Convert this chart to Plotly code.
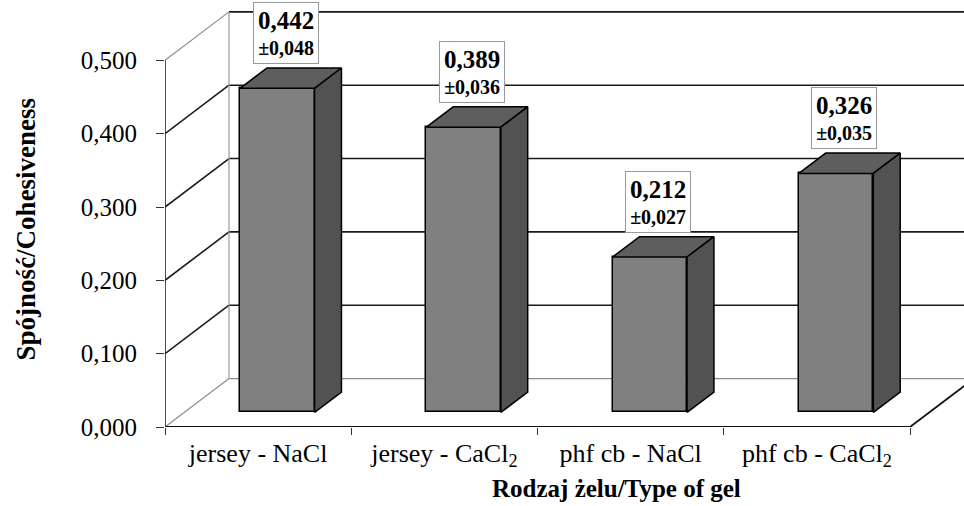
import plotly.graph_objects as go

# Cohesiveness of gels by gel type (mean ± SD)
categories = ["jersey - NaCl", "jersey - CaCl<sub>2</sub>", "phf cb - NaCl", "phf cb - CaCl<sub>2</sub>"]
means = [0.442, 0.389, 0.212, 0.326]
sds = [0.048, 0.036, 0.027, 0.035]
y_ticks = [0.0, 0.1, 0.2, 0.3, 0.4, 0.5]
y_tick_labels = ["0,000", "0,100", "0,200", "0,300", "0,400", "0,500"]

FONT = "Liberation Serif"


def pl(v):
    return f"{v:.3f}".replace(".", ",")


# pseudo-3D box geometry (depth shift of the back wall, in axis units)
DX = 0.3436
DY = 0.0661
F0, F1 = 0.30, 0.72      # front / back depth fraction of the columns
BAR_W = 0.40
FRONT = "#808080"
TOP = "#5e5e5e"
SIDE = "#525252"

n = len(categories)
x_lo, x_hi = -0.5, n - 0.5
y_top = y_ticks[-1]

fig = go.Figure()

shapes = []


def seg(x0, y0, x1, y1, color, width=1.5, layer="below"):
    shapes.append(dict(type="line", xref="x", yref="y", x0=x0, y0=y0, x1=x1, y1=y1,
                       line=dict(color=color, width=width), layer=layer))


# back wall gridlines and left wall diagonals
for t in y_ticks:
    edge = t in (y_ticks[0], y_ticks[-1])
    seg(x_lo + DX, t + DY, x_hi + DX + 0.5, t + DY, "#8c8c8c" if t == 0 else "#1a1a1a",
        1.2 if t == 0 else 1.6)
    seg(x_lo, t, x_lo + DX, t + DY, "#8c8c8c" if edge else "#1a1a1a", 1.2 if edge else 1.6)
# back-left vertical edge
seg(x_lo + DX, DY, x_lo + DX, y_top + DY, "#9a9a9a", 1.2)
# front value axis
seg(x_lo, 0, x_lo, y_top, "#222222", 1.6)
# floor front and right edges
seg(x_lo, 0, x_hi, 0, "#111111", 2.2)
seg(x_hi, 0, x_hi + DX, DY, "#111111", 1.8)

# column front faces
xs = [i + F0 * DX for i in range(n)]
fig.add_trace(go.Bar(
    x=xs, y=means, base=F0 * DY, width=BAR_W,
    marker=dict(color=FRONT, line=dict(color="black", width=1.5)),
    hoverinfo="skip", showlegend=False,
))

# column top and side faces
dx = (F1 - F0) * DX
dy = (F1 - F0) * DY
b0 = F0 * DY
for xc, v in zip(xs, means):
    xl, xr = xc - BAR_W / 2, xc + BAR_W / 2
    top_y = v + b0
    fig.add_trace(go.Scatter(
        x=[xl, xl + dx, xr + dx, xr, xl],
        y=[top_y, top_y + dy, top_y + dy, top_y, top_y],
        mode="lines", fill="toself", fillcolor=TOP,
        line=dict(color="black", width=1.5), hoverinfo="skip", showlegend=False,
    ))
    fig.add_trace(go.Scatter(
        x=[xr, xr + dx, xr + dx, xr, xr],
        y=[b0, b0 + dy, top_y + dy, top_y, b0],
        mode="lines", fill="toself", fillcolor=SIDE,
        line=dict(color="black", width=1.5), hoverinfo="skip", showlegend=False,
    ))

annotations = []
for xc, v, s in zip(xs, means, sds):
    annotations.append(dict(
        x=xc + 0.045, y=v + F1 * DY + 0.005, xref="x", yref="y",
        xanchor="center", yanchor="bottom", showarrow=False,
        text=f"<b><span style='font-size:25px'>{pl(v)}</span></b><br><b>±{pl(s)}</b>",
        font=dict(family=FONT, size=20, color="black"),
        bgcolor="white", bordercolor="#9a9a9a", borderwidth=1, borderpad=4,
    ))

# axis titles
annotations.append(dict(
    text="<b>Spójność/Cohesiveness</b>", xref="paper", yref="paper",
    x=-0.174, y=0.465, xanchor="center", yanchor="middle", textangle=-90,
    showarrow=False, font=dict(family=FONT, size=27, color="black"),
))
annotations.append(dict(
    text="<b>Rodzaj żelu/Type of gel</b>", xref="paper", yref="paper",
    x=0.565, y=-0.143, xanchor="center", yanchor="middle",
    showarrow=False, font=dict(family=FONT, size=25, color="black"),
))

PX_PER_CAT = 186.25
PLOT_W = 964 - 165
fig.update_layout(
    width=964, height=506,
    margin=dict(l=165, r=0, t=0, b=79),
    paper_bgcolor="white", plot_bgcolor="white",
    shapes=shapes, annotations=annotations,
    bargap=0,
    xaxis=dict(
        type="linear", range=[x_lo, x_lo + PLOT_W / PX_PER_CAT],
        tickvals=list(range(n)), ticktext=categories, ticks="",
        showgrid=False, zeroline=False, showline=False,
        tickfont=dict(family=FONT, size=26, color="black"),
        ticklabelstandoff=8,
        minor=dict(tickvals=[x_lo + k for k in range(n + 1)], ticks="outside",
                   ticklen=7, tickcolor="#333333", tickwidth=1.2, showgrid=False),
    ),
    yaxis=dict(
        range=[0, 427 / 733.3],
        tickvals=y_ticks, ticktext=y_tick_labels, ticks="outside",
        ticklen=8, tickcolor="#333333", tickwidth=1.2,
        showgrid=False, zeroline=False, showline=False,
        tickfont=dict(family=FONT, size=25, color="black"),
        ticklabelstandoff=14,
    ),
)

fig.write_html("out.html")
